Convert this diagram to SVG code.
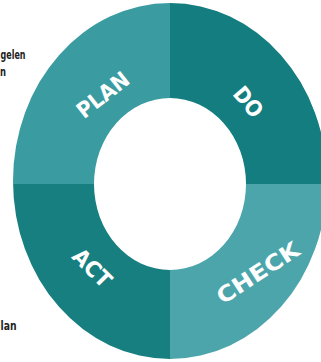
<svg xmlns="http://www.w3.org/2000/svg" width="321" height="362" viewBox="0 0 321 362">
<defs>
<style>
.lbl{font-family:"DejaVu Sans Condensed","DejaVu Sans",sans-serif;font-weight:bold;font-size:22px;fill:#ffffff;text-anchor:middle;dominant-baseline:central}
.side{font-family:"DejaVu Sans Condensed","DejaVu Sans",sans-serif;font-weight:bold;font-size:11.5px;fill:#222222;text-anchor:start}
</style>
<clipPath id="ring">
<path fill-rule="evenodd" clip-rule="evenodd" d="M13,181 a157,178 0 1,0 314,0 a157,178 0 1,0 -314,0 Z M94,184 a76,86 0 1,0 152,0 a76,86 0 1,0 -152,0 Z"/>
</clipPath>
</defs>
<rect width="321" height="362" fill="#ffffff"/>
<g clip-path="url(#ring)">
<g id="plan"><rect x="0" y="0" width="170" height="184" fill="#3a9ca1"/></g>
<g id="do"><rect x="170" y="0" width="160" height="184" fill="#137d7f"/></g>
<g id="act"><rect x="0" y="184" width="170" height="180" fill="#177f80"/></g>
<g id="check"><rect x="170" y="184" width="160" height="180" fill="#4ba5aa"/></g>
</g>
<g id="labels">
<text class="lbl" transform="translate(103,95) rotate(-38)" textLength="60" lengthAdjust="spacingAndGlyphs">PLAN</text>
<text class="lbl" transform="translate(248,102) rotate(50)" textLength="33" lengthAdjust="spacingAndGlyphs">DO</text>
<text class="lbl" transform="translate(92,268) rotate(45)" textLength="45" lengthAdjust="spacingAndGlyphs">ACT</text>
<text class="lbl" transform="translate(258,273) rotate(-33)" textLength="94" lengthAdjust="spacingAndGlyphs">CHECK</text>
</g>
<g id="side-text">
<text class="side" x="0.5" y="59" textLength="25" lengthAdjust="spacingAndGlyphs">gelen</text>
<text class="side" x="0" y="76" textLength="6" lengthAdjust="spacingAndGlyphs">n</text>
<text class="side" x="0.5" y="330" textLength="16" lengthAdjust="spacingAndGlyphs">lan</text>
</g>
</svg>
